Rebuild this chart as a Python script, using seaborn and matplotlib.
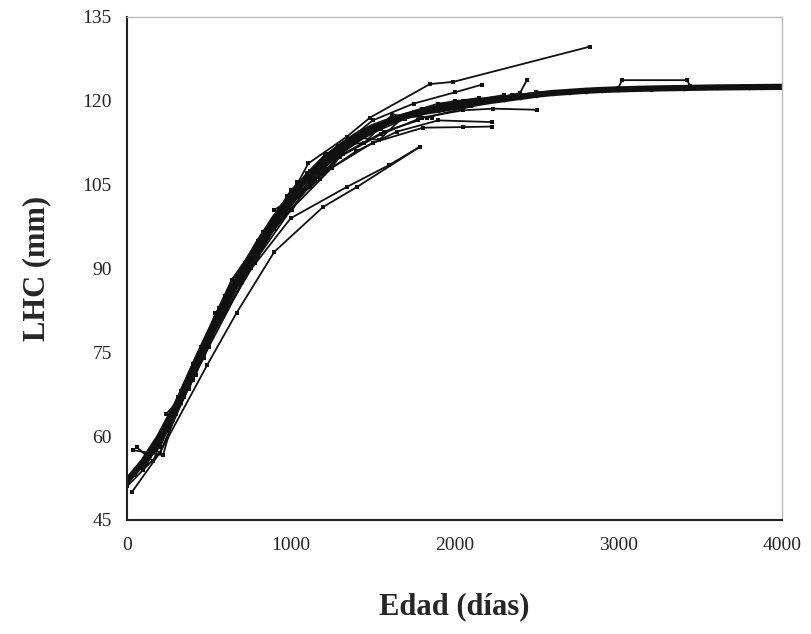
import numpy as np
import pandas as pd
import matplotlib
matplotlib.use("Agg")
import matplotlib.pyplot as plt
import seaborn as sns

# ---- fitted growth curve ----
fit_age = [0, 100, 200, 300, 400, 500, 600, 700, 800, 900, 1000, 1100, 1200, 1300,
           1400, 1500, 1600, 1700, 1800, 1900, 2000, 2100, 2200, 2300, 2400, 2500,
           2600, 2700, 2800, 2900, 3000, 3200, 3400, 3600, 3800, 4000]
fit_lhc = [52, 55.5, 60, 65.5, 72, 78, 84, 89.5, 94.5, 99, 103, 106.5, 109.5, 111.8,
           113.8, 115.3, 116.4, 117.3, 118, 118.4, 118.9, 119.4, 119.9, 120.3, 120.7, 121.1,
           121.4, 121.6, 121.8, 121.95, 122.05, 122.2, 122.3, 122.4, 122.45, 122.5]

# ---- individual trajectories (age in days, LHC in mm) ----
age_01 = [0, 150, 330, 560, 800, 1107, 1343, 1484, 1850, 1993, 2827]
lhc_01 = [52, 58, 68, 80.5, 92, 108.8, 113.6, 117, 123, 123.4, 129.7]
age_02 = [100, 300, 520, 760, 1000, 1250, 1500, 1750, 2000, 2168]
lhc_02 = [54, 64, 79, 91.5, 104, 110.5, 116.5, 119.5, 121.5, 122.9]
age_03 = [200, 420, 650, 900, 1150, 1400, 1700, 2000, 2250, 2400, 2443]
lhc_03 = [58, 72, 87, 98, 108, 113, 116.8, 119, 120.4, 121.4, 123.8]
age_04 = [300, 550, 800, 1050, 1300, 1550, 1800, 2050, 2235, 2504]
lhc_04 = [64, 80, 93.5, 103, 110, 114, 117, 118.3, 118.6, 118.4]
age_05 = [250, 500, 750, 1000, 1250, 1500, 1808, 2050, 2229]
lhc_05 = [61, 76, 90, 100.5, 108, 112.5, 115.2, 115.3, 115.4]
age_06 = [150, 400, 650, 900, 1150, 1400, 1650, 1900, 2229]
lhc_06 = [57, 70, 86, 97, 106, 111, 114.5, 116.5, 116.2]
age_07 = [0, 200, 489, 670, 900, 1197, 1405, 1790]
lhc_07 = [51, 57, 72.7, 82.1, 93, 101, 104.6, 111.8]
age_08 = [300, 520, 760, 1000, 1343, 1600, 1790]
lhc_08 = [65, 78, 90, 99, 104.6, 108.5, 111.8]
age_09 = [37, 220, 281, 450, 680, 930, 1180, 1430]
lhc_09 = [57.5, 56.6, 62.9, 76, 88.5, 99, 108, 113.5]
age_10 = [600, 1000, 1500, 2000, 2500, 3000, 3023, 3420, 3440]
lhc_10 = [85, 103, 115.5, 119.5, 121.5, 122.3, 123.7, 123.7, 122.6]
age_11 = [0, 120, 280, 460, 700, 950, 1200, 1450, 1700]
lhc_11 = [52, 55, 63, 76, 90, 101, 109.5, 114.5, 117.5]
age_12 = [50, 250, 480, 720, 980, 1230, 1480, 1750, 1950]
lhc_12 = [53, 61, 77, 91, 103, 110.5, 115, 118, 119.5]
age_13 = [180, 380, 600, 850, 1100, 1350, 1600, 1880]
lhc_13 = [59, 70.5, 85, 96.5, 107, 112.5, 116.5, 118.8]
age_14 = [400, 640, 880, 1120, 1380, 1620, 1900, 2150]
lhc_14 = [73, 88, 98, 107.5, 113.5, 117, 119.5, 120.5]
age_15 = [30, 200, 350, 560, 800, 1050, 1300, 1550]
lhc_15 = [50, 57, 67, 81, 94, 104.5, 111, 115]
age_16 = [600, 820, 1080, 1310, 1560, 1820, 2080, 2300]
lhc_16 = [84, 95, 105.5, 111.5, 116, 118.5, 120, 121]
age_17 = [350, 590, 830, 1070, 1320, 1570, 1780]
lhc_17 = [69, 83.5, 95, 104, 110.5, 114.5, 116.5]
age_18 = [100, 330, 560, 810, 1060, 1280, 1500, 1720, 2000]
lhc_18 = [55.5, 66, 81.5, 93.5, 104, 110, 114.5, 117.5, 120]
age_19 = [800, 1050, 1300, 1550, 1800, 2050, 2350]
lhc_19 = [95, 104.5, 111, 115.5, 118.5, 120, 121]
age_20 = [0, 180, 420, 640, 880, 1100, 1330]
lhc_20 = [52, 57.5, 73, 87, 97.5, 106, 112.5]
age_21 = [60, 160, 310, 470, 640, 860, 1040, 1260, 1420]
lhc_21 = [58, 55.5, 67, 74, 88, 95.5, 105.5, 108.5, 114.5]
age_22 = [420, 560, 780, 960, 1180, 1380, 1540, 1700, 1860]
lhc_22 = [71, 83, 91, 101.5, 106, 113.5, 113, 117.5, 117]
age_23 = [900, 1120, 1290, 1450, 1620, 1830, 2100]
lhc_23 = [100.5, 104.5, 112, 112.5, 117.5, 117, 119]
age_24 = [240, 380, 540, 700, 830, 1010, 1210]
lhc_24 = [64, 68.5, 82, 87.5, 96.5, 100.5, 110.5]

trajectories = [
    (age_01, lhc_01), (age_02, lhc_02), (age_03, lhc_03), (age_04, lhc_04),
    (age_05, lhc_05), (age_06, lhc_06), (age_07, lhc_07), (age_08, lhc_08),
    (age_09, lhc_09), (age_10, lhc_10), (age_11, lhc_11), (age_12, lhc_12),
    (age_13, lhc_13), (age_14, lhc_14), (age_15, lhc_15), (age_16, lhc_16),
    (age_17, lhc_17), (age_18, lhc_18), (age_19, lhc_19), (age_20, lhc_20),
    (age_21, lhc_21), (age_22, lhc_22), (age_23, lhc_23), (age_24, lhc_24),
]

x_ticks = [0, 1000, 2000, 3000, 4000]
y_ticks = [45, 60, 75, 90, 105, 120, 135]

rows = []
for i, (a, l) in enumerate(trajectories):
    for ai, li in zip(a, l):
        rows.append({"id": i, "Edad": ai, "LHC": li})
df = pd.DataFrame(rows)
fit_df = pd.DataFrame({"Edad": fit_age, "LHC": fit_lhc})

sns.set_style("white")
plt.rcParams["font.family"] = ["Liberation Serif", "DejaVu Serif"]

fig = plt.figure(figsize=(8.11, 6.34), dpi=100)
ax = fig.add_axes([127 / 811, 1 - 520 / 634, (782 - 127) / 811, (520 - 17) / 634])

sns.lineplot(data=df, x="Edad", y="LHC", units="id", estimator=None, sort=False,
             color="#111111", linewidth=1.3, marker="s", markersize=3.5,
             markeredgewidth=0, ax=ax, legend=False)
sns.lineplot(data=fit_df, x="Edad", y="LHC", color="#111111", linewidth=4.5,
             marker="o", markersize=4, markeredgewidth=0, ax=ax, legend=False)

ax.set_xlim(0, 4000)
ax.set_ylim(45, 135)
ax.set_xticks(x_ticks)
ax.set_yticks(y_ticks)
ax.set_xticklabels([str(t) for t in x_ticks], fontsize=14)
ax.set_yticklabels([str(t) for t in y_ticks], fontsize=14)
ax.tick_params(axis="both", direction="out", length=6, width=1.2, color="#222222")
ax.tick_params(axis="x", pad=6)
ax.tick_params(axis="y", pad=5)

for s in ["left", "bottom"]:
    ax.spines[s].set_color("#222222")
    ax.spines[s].set_linewidth(1.5)
for s in ["top", "right"]:
    ax.spines[s].set_color("#bbbbbb")
    ax.spines[s].set_linewidth(1.0)

ax.set_xlabel("Edad (días)", fontsize=22, fontweight="bold", labelpad=28)
ax.set_ylabel("LHC (mm)", fontsize=22, fontweight="bold", labelpad=22)

fig.savefig("out.png", dpi=100)
